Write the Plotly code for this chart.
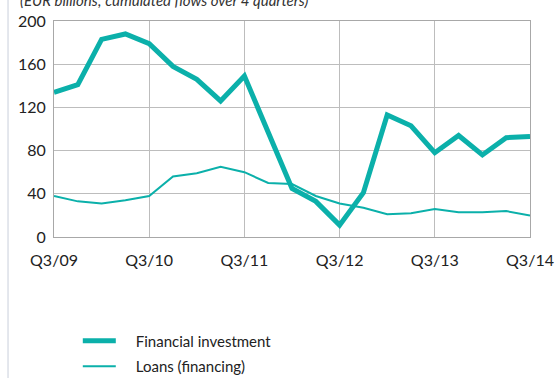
import plotly.graph_objects as go

# Quarterly periods, Q3/2009 to Q3/2014
quarters = [
    "Q3/09", "Q4/09", "Q1/10", "Q2/10", "Q3/10", "Q4/10", "Q1/11", "Q2/11",
    "Q3/11", "Q4/11", "Q1/12", "Q2/12", "Q3/12", "Q4/12", "Q1/13", "Q2/13",
    "Q3/13", "Q4/13", "Q1/14", "Q2/14", "Q3/14",
]
tick_labels = ["Q3/09", "Q3/10", "Q3/11", "Q3/12", "Q3/13", "Q3/14"]

# EUR billions, cumulated flows over 4 quarters
financial_investment = [134, 141, 183, 188, 179, 158, 146, 126, 149, 97, 45,
                        33, 11, 41, 113, 103, 78, 94, 76, 92, 93]
loans_financing = [38, 33, 31, 34, 38, 56, 59, 65, 60, 50, 49,
                   38, 31, 27, 21, 22, 26, 23, 23, 24, 20]

teal = "#0bb0aa"
font_family = "Lato, 'Open Sans', sans-serif"
pad = "\u2003\u2005"  # space between legend swatch and label

fig = go.Figure()
fig.add_trace(go.Scatter(
    x=quarters, y=financial_investment, mode="lines",
    name=pad + "Financial investment", legendgroup="fi",
    line=dict(color=teal, width=5),
))
fig.add_trace(go.Scatter(
    x=quarters, y=loans_financing, mode="lines",
    name=pad + "Loans (financing)", legendgroup="lo",
    line=dict(color=teal, width=2),
))

grid = "#bdbdbd"
fig.update_xaxes(
    type="category", categoryorder="array", categoryarray=quarters,
    range=[0, len(quarters) - 1],
    tickmode="array", tickvals=tick_labels, ticktext=tick_labels,
    showgrid=True, gridcolor=grid, gridwidth=1,
    showline=True, linecolor="#a8a8a8", linewidth=1, mirror=True,
    ticks="", ticklabelstandoff=9,
    tickfont=dict(family=font_family, size=16, color="#222"),
    zeroline=False,
)
fig.update_yaxes(
    range=[0, 200], dtick=40, tick0=0,
    showgrid=True, gridcolor=grid, gridwidth=1,
    showline=True, linecolor="#a8a8a8", linewidth=1, mirror=True,
    ticks="", ticklabelstandoff=4,
    tickfont=dict(family=font_family, size=16, color="#222"),
    zeroline=False,
)

fig.update_layout(
    width=556, height=378,
    margin=dict(l=54, r=26, t=21, b=141, autoexpand=False),
    paper_bgcolor="white", plot_bgcolor="white",
    font=dict(family=font_family, color="#222"),
    showlegend=True,
    legend=dict(
        x=0.05, y=-0.405, xanchor="left", yanchor="top",
        bgcolor="rgba(0,0,0,0)",
        font=dict(family=font_family, size=15, color="#222"),
        itemwidth=33, tracegroupgap=3,
    ),
    annotations=[dict(
        text="(EUR billions; cumulated flows over 4 quarters)",
        xref="paper", yref="paper", x=-0.076, y=1.0957,
        xanchor="left", yanchor="middle", showarrow=False,
        font=dict(family=font_family, size=15, color="#333", style="italic"),
    )],
    shapes=[dict(
        type="line", xref="paper", yref="paper",
        x0=-0.0966, x1=-0.0966, y0=-0.66, y1=1.1,
        line=dict(color="#c9cfdb", width=1),
    )],
)

fig.write_html("out.html")
